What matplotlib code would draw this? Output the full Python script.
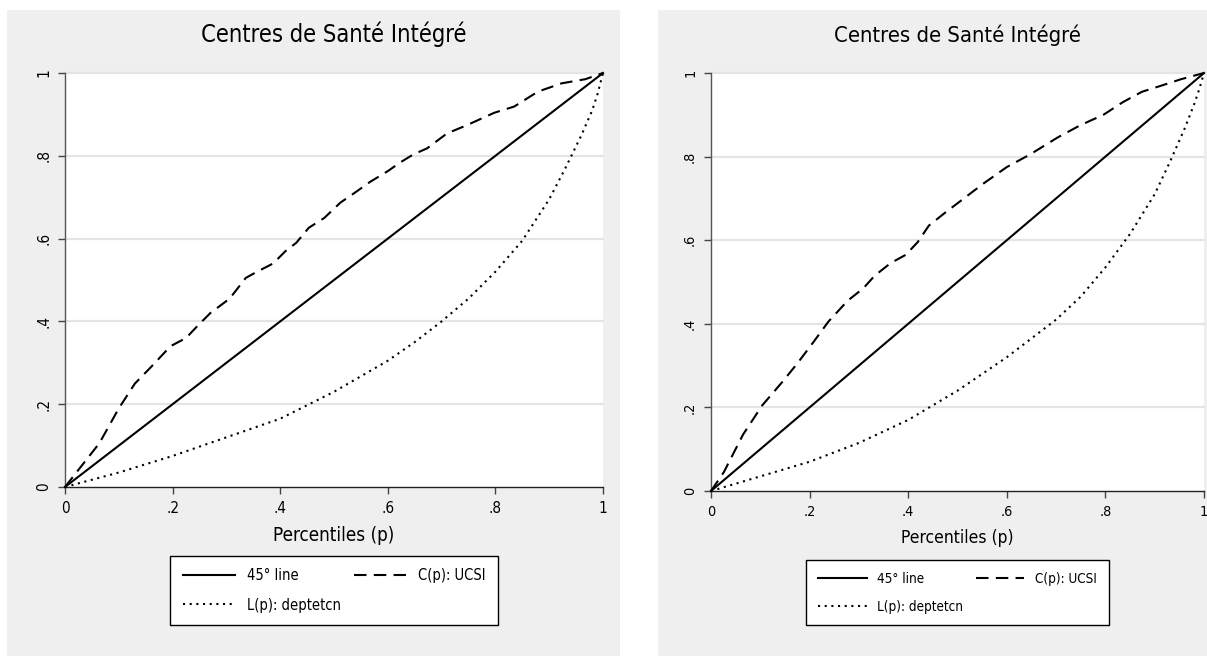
import matplotlib
matplotlib.use("Agg")
import matplotlib.pyplot as plt
from matplotlib.patches import Rectangle
from matplotlib import font_manager as fm

def pick_font():
    try:
        p = fm.findfont(fm.FontProperties(family="Liberation Sans Narrow"), fallback_to_default=False)
        if "Narrow" in p:
            return dict(family=["Liberation Sans Narrow", "DejaVu Sans"], stretch="normal", kind="narrow")
    except Exception:
        pass
    try:
        p = fm.findfont(fm.FontProperties(family="DejaVu Sans", stretch="condensed"), fallback_to_default=False)
        if "Condensed" in p:
            return dict(family=["DejaVu Sans"], stretch="condensed", kind="dvcond")
    except Exception:
        pass
    return dict(family=["Liberation Sans", "DejaVu Sans"], stretch="normal", kind="lib")

F = pick_font()
plt.rcParams['font.family'] = F["family"]
plt.rcParams['font.stretch'] = F["stretch"]
S = {"narrow": 1.2, "dvcond": 1.0, "lib": 1.0}[F["kind"]]

title = "Centres de Santé Intégré"
xlabel = "Percentiles (p)"
labels = ["45° line", "C(p): UCSI", "L(p): deptetcn"]
tick_vals = [0, 0.2, 0.4, 0.6, 0.8, 1]
tick_labels = ["0", ".2", ".4", ".6", ".8", "1"]

# Left panel
left_c_p = [0, 0.064, 0.1, 0.13, 0.16, 0.196, 0.225, 0.247, 0.27, 0.306, 0.336, 0.357, 0.387,
            0.41, 0.43, 0.453, 0.482, 0.512, 0.54, 0.567, 0.6, 0.622, 0.647, 0.673, 0.71,
            0.747, 0.798, 0.835, 0.879, 0.923, 0.967, 1.0]
left_c_v = [0, 0.106, 0.19, 0.25, 0.29, 0.34, 0.36, 0.39, 0.42, 0.455, 0.505, 0.52, 0.54,
            0.57, 0.59, 0.626, 0.65, 0.687, 0.712, 0.737, 0.763, 0.783, 0.803, 0.818, 0.854,
            0.874, 0.904, 0.919, 0.955, 0.975, 0.985, 1.0]
left_l_p = [0, 0.1, 0.2, 0.3, 0.4, 0.5, 0.6, 0.65, 0.7, 0.75, 0.8, 0.85, 0.9,
            0.93, 0.96, 0.98, 0.99, 1.0]
left_l_v = [0, 0.035, 0.075, 0.12, 0.165, 0.23, 0.305, 0.35, 0.40, 0.455, 0.52, 0.595, 0.695,
            0.77, 0.85, 0.91, 0.95, 1.0]

# Right panel
right_c_p = [0, 0.026, 0.065, 0.104, 0.144, 0.175, 0.207, 0.238, 0.277, 0.309, 0.332, 0.364,
             0.395, 0.419, 0.442, 0.474, 0.513, 0.552, 0.6, 0.647, 0.702, 0.749, 0.796, 0.835,
             0.874, 0.914, 0.953, 1.0]
right_c_v = [0, 0.045, 0.135, 0.205, 0.26, 0.305, 0.355, 0.405, 0.455, 0.485, 0.515, 0.545,
             0.565, 0.595, 0.635, 0.665, 0.70, 0.735, 0.775, 0.805, 0.845, 0.875, 0.90, 0.93,
             0.955, 0.97, 0.985, 1.0]
right_l_p = [0, 0.1, 0.2, 0.3, 0.4, 0.5, 0.6, 0.65, 0.7, 0.75, 0.8, 0.85, 0.9,
             0.93, 0.96, 0.98, 0.99, 1.0]
right_l_v = [0, 0.035, 0.07, 0.115, 0.17, 0.24, 0.32, 0.365, 0.41, 0.465, 0.535, 0.615, 0.71,
             0.785, 0.865, 0.925, 0.96, 1.0]

W, H = 1207, 656
fig = plt.figure(figsize=(W / 100, H / 100), dpi=100)
fig.patch.set_facecolor("white")

BG = "#efefef"
for (x0, y0, x1, y1) in [(7, 10, 620, 656), (658, 10, 1207, 656)]:
    fig.patches.append(Rectangle((x0 / W, 1 - y1 / H), (x1 - x0) / W, (y1 - y0) / H,
                                 transform=fig.transFigure, facecolor=BG, edgecolor="none",
                                 zorder=-10))

panels = [
    dict(box=(65, 73, 603, 487), cp=left_c_p, cv=left_c_v, lp=left_l_p, lv=left_l_v, legy=-0.148, fs=1.0),
    dict(box=(711, 73, 1204, 491), cp=right_c_p, cv=right_c_v, lp=right_l_p, lv=right_l_v, legy=-0.150, fs=0.93),
]

for pn in panels:
    x0, y0, x1, y1 = pn["box"]
    k = S * pn["fs"]
    ax = fig.add_axes([x0 / W, 1 - y1 / H, (x1 - x0) / W, (y1 - y0) / H])
    ax.set_zorder(5)
    ax.set_facecolor("white")
    ax.set_xlim(0, 1)
    ax.set_ylim(0, 1)
    for yv in tick_vals[1:]:
        ax.axhline(yv, color="#e4e4e4", lw=1.6, zorder=1, clip_on=False)
    h1, = ax.plot([0, 1], [0, 1], color="black", lw=1.5, ls="-", clip_on=False, zorder=3)
    h2, = ax.plot(pn["cp"], pn["cv"], color="black", lw=1.5, ls=(0, (6, 3.5)), clip_on=False, zorder=3)
    h3, = ax.plot(pn["lp"], pn["lv"], color="black", lw=1.5, ls=(0, (1, 2.2)), clip_on=False, zorder=3)
    for s in ["top", "right"]:
        ax.spines[s].set_visible(False)
    ax.spines["left"].set_color("#555555")
    ax.spines["bottom"].set_color("#222222")
    ax.spines["left"].set_linewidth(1.0)
    ax.spines["bottom"].set_linewidth(1.0)
    ax.set_xticks(tick_vals)
    ax.set_xticklabels(tick_labels, fontsize=11 * k)
    ax.set_yticks(tick_vals)
    ax.set_yticklabels(tick_labels, fontsize=11 * k, rotation=90, va="center")
    ax.tick_params(axis="both", direction="out", length=5, width=1, color="#444444", pad=5)
    ax.set_title(title, fontsize=17 * k, pad=22)
    ax.set_xlabel(xlabel, fontsize=13.5 * k, labelpad=7)
    leg = ax.legend([h1, h3, h2], [labels[0], labels[2], labels[1]], ncol=2,
                    loc="upper center", bbox_to_anchor=(0.5, pn["legy"]), frameon=True,
                    fancybox=False, edgecolor="black", framealpha=1, fontsize=10.5 * k,
                    handlelength=3.6, handletextpad=0.8, columnspacing=0.9,
                    labelspacing=1.0, borderpad=0.85)
    leg.get_frame().set_linewidth(1.0)

fig.savefig("out.png", dpi=100, facecolor=fig.get_facecolor())
